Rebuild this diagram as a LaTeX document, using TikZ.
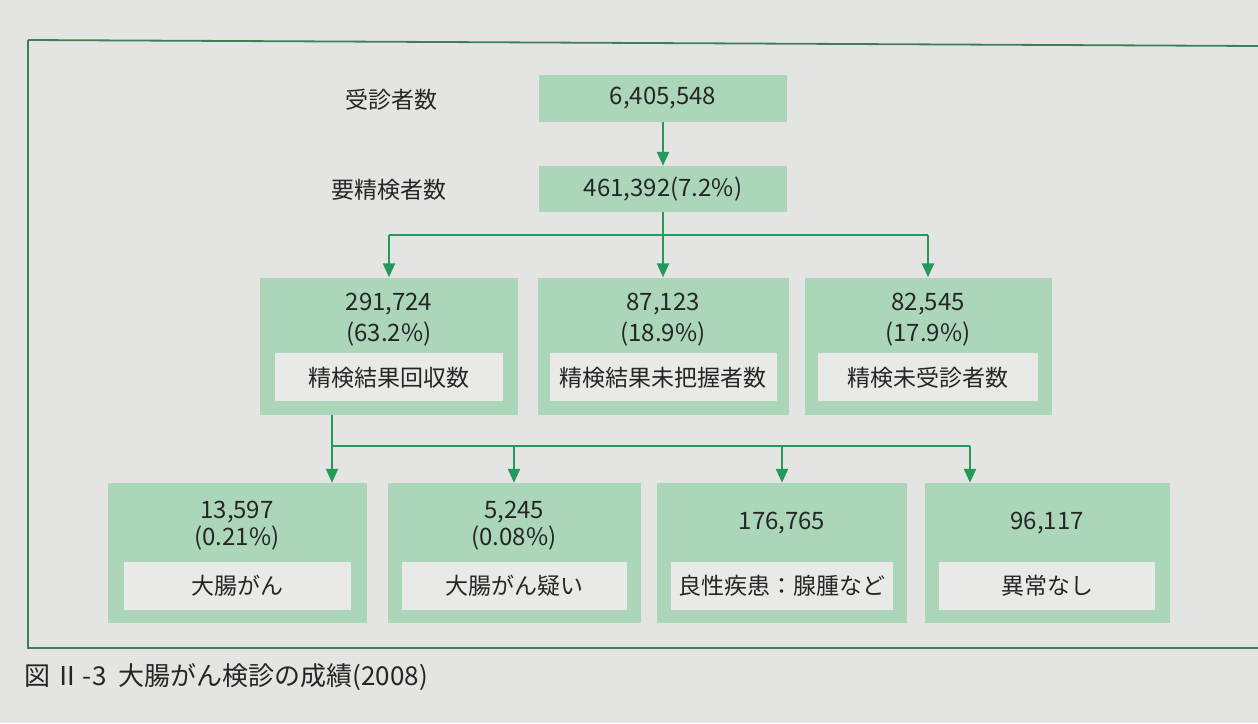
\documentclass[tikz,border=0pt]{standalone}
\usepackage{fontspec}
\setmainfont{Noto Sans CJK JP}
\usetikzlibrary{arrows.meta,calc}
\definecolor{paper}{HTML}{E4E4E2}
\definecolor{boxgreen}{HTML}{ABD6BA}
\definecolor{innerwhite}{HTML}{E9EAE7}
\definecolor{linegreen}{HTML}{23995A}
\definecolor{framegreen}{HTML}{3E7E58}
\definecolor{txt}{HTML}{262626}
\begin{document}
\begin{tikzpicture}[x=1pt,y=-1pt,
  greenbox/.style={rectangle, fill=boxgreen, draw=none, inner sep=0pt, text=txt, font=\fontsize{24}{24}\selectfont},
  whitebox/.style={rectangle, fill=innerwhite, draw=none, inner sep=0pt, minimum height=48pt, text=txt, font=\fontsize{23}{23}\selectfont},
  num/.style={inner sep=0pt, text=txt, font=\fontsize{24}{24}\selectfont},
  lbl/.style={inner sep=0pt, text=txt, font=\fontsize{23}{23}\selectfont},
  conn/.style={draw=linegreen, line width=2.2pt},
  arr/.style={conn, -{Triangle[width=12pt,length=14pt]}},
  frame/.style={draw=framegreen, line width=1.8pt}
]
\fill[paper] (0,0) rectangle (1258,723);
\useasboundingbox (0,0) rectangle (1258,723);

% frame
\draw[frame] (28,40) -- (1258,46);
\draw[frame] (28,40) -- (28,648) -- (1258,648);

% top boxes
\node[greenbox, minimum width=248pt, minimum height=47pt] (n1) at (663,98) {6,405,548};
\node[greenbox, minimum width=248pt, minimum height=46pt] (n2) at (663,189) {461,392(7.2\%)};
\node[lbl] (l1) at (391,100) {受診者数};
\node[lbl] (l2) at (389,190) {要精検者数};

% middle row
\node[greenbox, minimum width=258pt, minimum height=137pt] (a) at (389,346) {};
\node[greenbox, minimum width=251pt, minimum height=137pt] (b) at (663,346) {};
\node[greenbox, minimum width=247pt, minimum height=137pt] (c) at (928,346) {};

\node[num] (a1) at ($(a.north)+(0,27)$) {291,724};
\node[num] (a2) at ($(a.north)+(0,57)$) {(63.2\%)};
\node[whitebox, minimum width=228pt] (a3) at ($(a.north)+(0,100)$) {精検結果回収数};

\node[num] (b1t) at ($(b.north)+(0,27)$) {87,123};
\node[num] (b2t) at ($(b.north)+(0,57)$) {(18.9\%)};
\node[whitebox, minimum width=227pt] (b3t) at ($(b.north)+(0,100)$) {精検結果未把握者数};

\node[num] (c1) at ($(c.north)+(0,27)$) {82,545};
\node[num] (c2) at ($(c.north)+(0,57)$) {(17.9\%)};
\node[whitebox, minimum width=220pt] (c3) at ($(c.north)+(0,100)$) {精検未受診者数};

% bottom row
\node[greenbox, minimum width=259pt, minimum height=140pt] (d1) at (237,553) {};
\node[greenbox, minimum width=253pt, minimum height=140pt] (d2) at (514,553) {};
\node[greenbox, minimum width=250pt, minimum height=140pt] (d3) at (782,553) {};
\node[greenbox, minimum width=245pt, minimum height=140pt] (d4) at (1047,553) {};

\node[num] (d1a) at ($(d1.north)+(0,29)$) {13,597};
\node[num] (d1b) at ($(d1.north)+(0,55)$) {(0.21\%)};
\node[whitebox, minimum width=227pt] (d1c) at ($(d1.north)+(0,103)$) {大腸がん};

\node[num] (d2a) at ($(d2.north)+(0,29)$) {5,245};
\node[num] (d2b) at ($(d2.north)+(0,55)$) {(0.08\%)};
\node[whitebox, minimum width=225pt] (d2c) at ($(d2.north)+(0,103)$) {大腸がん疑い};

\node[num] (d3a) at ($(d3.north)+(0,40)$) {176,765};
\node[whitebox, minimum width=222pt] (d3c) at ($(d3.north)+(0,103)$) {良性疾患：腺腫など};

\node[num] (d4a) at ($(d4.north)+(0,40)$) {96,117};
\node[whitebox, minimum width=216pt] (d4c) at ($(d4.north)+(0,103)$) {異常なし};

% connectors top
\draw[arr] (n1.south) -- (n2.north);
\coordinate (j1) at ($(n2.south)+(0,23)$);
\draw[conn] (n2.south) -- (j1);
\draw[conn] (a.north |- j1) -- (c.north |- j1);
\draw[arr] (a.north |- j1) -- (a.north);
\draw[arr] (j1) -- (b.north);
\draw[arr] (c.north |- j1) -- (c.north);

% connectors bottom
\coordinate (j2) at (332,446);
\coordinate (j3) at (970,446);
\draw[conn] (a.south -| j2) -- (j2);
\draw[conn] (j2) -- (j3);
\draw[arr] (j2) -- (j2 |- d1.north);
\draw[arr] (d2.north |- j2) -- (d2.north);
\draw[arr] (d3.north |- j2) -- (d3.north);
\draw[arr] (j3) -- (j3 |- d4.north);

% caption
\node[anchor=west, inner sep=0pt, text=txt, font=\fontsize{26}{26}\selectfont] (cap) at (24,677) {図\hspace{4pt}Ⅱ\hspace{2pt}-\hspace{1pt}3\hspace{12pt}大腸がん検診の成績(2008)};
\end{tikzpicture}
\end{document}
